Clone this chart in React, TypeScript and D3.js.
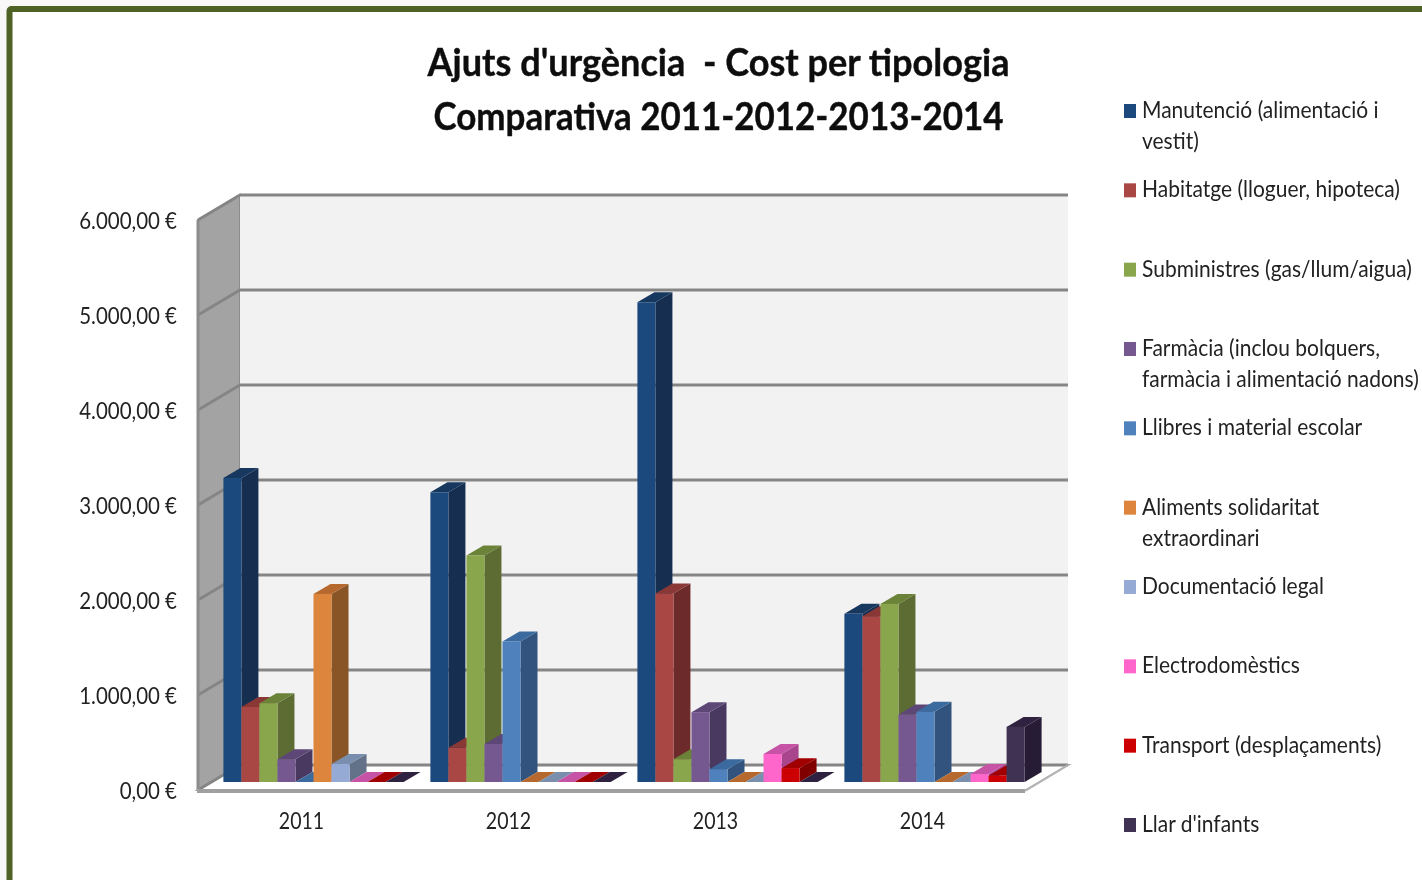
import React, { useEffect, useRef } from 'react';
import * as d3 from 'd3';

const years = ['2011', '2012', '2013', '2014'];

const categories = [
  'Manutenció (alimentació i vestit)',
  'Habitatge (lloguer, hipoteca)',
  'Subministres (gas/llum/aigua)',
  'Farmàcia (inclou bolquers, farmàcia i alimentació nadons)',
  'Llibres i material escolar',
  'Aliments solidaritat extraordinari',
  'Documentació legal',
  'Electrodomèstics',
  'Transport (desplaçaments)',
  "Llar d'infants",
];

// legend entries that wrap on two lines
const legendLines = [
  ['Manutenció (alimentació i', 'vestit)'],
  ['Habitatge (lloguer, hipoteca)'],
  ['Subministres (gas/llum/aigua)'],
  ['Farmàcia (inclou bolquers,', 'farmàcia i alimentació nadons)'],
  ['Llibres i material escolar'],
  ['Aliments solidaritat', 'extraordinari'],
  ['Documentació legal'],
  ['Electrodomèstics'],
  ['Transport (desplaçaments)'],
  ["Llar d'infants"],
];

// one row per category, one value per year
const manutencio = [3200, 3050, 5050, 1770];
const habitatge = [790, 360, 1985, 1745];
const subministres = [830, 2385, 240, 1875];
const farmacia = [240, 400, 735, 710];
const llibres = [0, 1480, 135, 740];
const aliments = [1980, 0, 0, 0];
const documentacio = [190, 0, 0, 0];
const electrodomestics = [0, 0, 295, 85];
const transport = [0, 0, 145, 65];
const llar = [0, 0, 0, 580];

const seriesValues = [
  manutencio, habitatge, subministres, farmacia, llibres,
  aliments, documentacio, electrodomestics, transport, llar,
];

const yTicks = [0, 1000, 2000, 3000, 4000, 5000, 6000];

const frontColors = ['#1f497d', '#a94744', '#8aa64e', '#74598f', '#4f81bd', '#dd843c', '#95aad4', '#ff66cc', '#cc0000', '#403152'];
const topColors = ['#17375e', '#8a3735', '#6b8339', '#5d4776', '#3a6a9f', '#b5692d', '#7a8fae', '#c653a6', '#a00000', '#2f2440'];
const sideColors = ['#132f50', '#6d2b29', '#5b6c32', '#4a3960', '#31537d', '#8a5426', '#637289', '#a8458c', '#800000', '#281e34'];

const locale = d3.formatLocale({
  decimal: ',',
  thousands: '.',
  grouping: [3],
  currency: ['', ' €'],
});

function App() {
  const svgRef = useRef<SVGSVGElement>(null);

  useEffect(() => {
    const svg = d3.select(svgRef.current);
    svg.selectAll('*').remove();

    const font = 'Lato, Carlito, sans-serif';
    const textColor = '#222';

    svg.append('defs')
      .append('filter')
      .attr('id', 'soft')
      .attr('x', 0).attr('y', 0).attr('width', 1).attr('height', 1)
      .append('feGaussianBlur')
      .attr('stdDeviation', 0.7);

    const root = svg.append('g').attr('filter', 'url(#soft)');

    // page background and frame
    root.append('rect').attr('width', 1422).attr('height', 880).attr('fill', '#f8f8f8');
    root.append('rect')
      .attr('x', 9.5).attr('y', 9)
      .attr('width', 1500).attr('height', 1000)
      .attr('rx', 2)
      .attr('fill', '#fff')
      .attr('stroke', '#4f6228')
      .attr('stroke-width', 6);

    // Title
    const titleLines = ["Ajuts d'urgència  - Cost per tipologia", 'Comparativa 2011-2012-2013-2014'];
    const titleWidths = [582, 570];
    root.selectAll('text.title')
      .data(titleLines)
      .join('text')
      .attr('class', 'title')
      .attr('transform', (d, i) => `translate(718.5,${76 + i * 54})`)
      .attr('text-anchor', 'middle')
      .attr('xml:space', 'preserve')
      .style('white-space', 'pre')
      .attr('font-family', font)
      .attr('font-weight', 700)
      .attr('font-size', 38)
      .attr('fill', '#111')
      .attr('stroke', '#111')
      .attr('stroke-width', 0.4)
      .attr('textLength', (d, i) => titleWidths[i])
      .attr('lengthAdjust', 'spacingAndGlyphs')
      .text(d => d);

    // Scales on the front plane of the 3D box
    const frontLeft = 198;
    const frontRight = 1026;
    const y0 = 790;
    const y1 = 220;
    const wallDx = 42;
    const wallDy = -25;
    const barDx = 12; // where the bars stand inside the box
    const barDy = -8;
    const depthDx = 17; // depth of a bar
    const depthDy = -10;

    const y = d3.scaleLinear().domain([0, 6000]).range([y0, y1]);
    const x = d3.scaleBand()
      .domain(years)
      .range([frontLeft, frontRight])
      .paddingInner(0.1294)
      .paddingOuter(0.0647);
    const xInner = d3.scaleBand()
      .domain(categories)
      .range([0, x.bandwidth()]);

    const poly = (pts: number[][]) => pts.map(p => p.join(',')).join(' ');

    // Left wall
    root.append('polygon')
      .attr('points', poly([
        [frontLeft, y(0)], [frontLeft, y(6000)],
        [frontLeft + wallDx, y(6000) + wallDy], [frontLeft + wallDx, y(0) + wallDy],
      ]))
      .attr('fill', '#a3a3a3')
      .attr('stroke', '#8c8c8c')
      .attr('stroke-width', 2);

    // Back wall
    root.append('rect')
      .attr('x', frontLeft + wallDx)
      .attr('y', y(6000) + wallDy)
      .attr('width', frontRight - frontLeft)
      .attr('height', y(0) - y(6000))
      .attr('fill', '#f2f2f2');

    // Floor
    root.append('polygon')
      .attr('points', poly([
        [frontLeft, y(0)], [frontLeft + wallDx, y(0) + wallDy],
        [frontRight + wallDx, y(0) + wallDy], [frontRight, y(0)],
      ]))
      .attr('fill', '#fff')
      .attr('stroke', '#a0a0a0')
      .attr('stroke-width', 2);

    // Gridlines: along the side wall, then along the back wall
    root.selectAll('polyline.grid')
      .data(yTicks)
      .join('polyline')
      .attr('class', 'grid')
      .attr('points', d => poly([
        [frontLeft, y(d)],
        [frontLeft + wallDx, y(d) + wallDy],
        [frontRight + wallDx, y(d) + wallDy],
      ]))
      .attr('fill', 'none')
      .attr('stroke', '#858585')
      .attr('stroke-width', 3);

    // Thick front edge of the floor and the wall
    root.append('line')
      .attr('x1', frontLeft).attr('x2', frontLeft)
      .attr('y1', y(6000)).attr('y2', y(0))
      .attr('stroke', '#8c8c8c').attr('stroke-width', 3);
    root.append('line')
      .attr('x1', frontLeft - 1).attr('x2', frontRight - 1)
      .attr('y1', y(0) + 1).attr('y2', y(0) + 1)
      .attr('stroke', '#a0a0a0').attr('stroke-width', 4);
    root.append('line')
      .attr('x1', frontRight - 1).attr('x2', frontRight + wallDx)
      .attr('y1', y(0) + 1).attr('y2', y(0) + wallDy)
      .attr('stroke', '#b5b5b5').attr('stroke-width', 2);

    // Bars
    years.forEach((year, yi) => {
      const group = root.append('g').attr('class', 'year-' + year);
      categories.forEach((cat, si) => {
        const v = seriesValues[si][yi];
        const bx = (x(year) as number) + (xInner(cat) as number) + barDx;
        const bw = xInner.bandwidth();
        const base = y(0) + barDy;
        const topY = y(v) + barDy;

        group.append('polygon')
          .attr('points', poly([
            [bx + bw, base], [bx + bw, topY],
            [bx + bw + depthDx, topY + depthDy], [bx + bw + depthDx, base + depthDy],
          ]))
          .attr('fill', sideColors[si]);
        group.append('polygon')
          .attr('points', poly([
            [bx, topY], [bx + depthDx, topY + depthDy],
            [bx + bw + depthDx, topY + depthDy], [bx + bw, topY],
          ]))
          .attr('fill', topColors[si]);
        group.append('rect')
          .attr('x', bx)
          .attr('y', topY)
          .attr('width', bw)
          .attr('height', base - topY)
          .attr('fill', frontColors[si]);
      });
    });

    // Y axis
    const yAxis = root.append('g')
      .attr('transform', `translate(${frontLeft},0)`)
      .call(d3.axisLeft(y)
        .tickValues(yTicks)
        .tickSize(0)
        .tickFormat(d => locale.format('$,.2f')(d as number)));
    yAxis.select('.domain').remove();
    yAxis.selectAll('text')
      .attr('x', 0)
      .attr('dy', '0.38em')
      .attr('transform', 'translate(-21,0) scale(0.89,1)')
      .attr('font-family', font)
      .attr('font-size', 23)
      .attr('fill', textColor);

    // X axis
    const xAxis = root.append('g')
      .attr('transform', `translate(0,${y0})`)
      .call(d3.axisBottom(x).tickSize(0));
    xAxis.select('.domain').remove();
    xAxis.selectAll('text')
      .attr('y', 0)
      .attr('dy', 0)
      .attr('transform', 'translate(0,39) scale(0.85,1)')
      .attr('font-family', font)
      .attr('font-size', 23)
      .attr('fill', textColor);

    // Legend
    const legendY = d3.scalePoint().domain(categories).range([111, 825]);
    const legend = root.selectAll('g.legend')
      .data(categories)
      .join('g')
      .attr('class', 'legend')
      .attr('transform', d => `translate(1124,${legendY(d)})`);
    legend.append('rect')
      .attr('y', -7)
      .attr('width', 12)
      .attr('height', 14)
      .attr('fill', (d, i) => frontColors[i]);
    legend.each(function (d, i) {
      d3.select(this).selectAll('text')
        .data(legendLines[i])
        .join('text')
        .attr('transform', (l, li) => `translate(18,${7 + li * 31}) scale(0.913,1)`)
        .attr('font-family', font)
        .attr('font-size', 23)
        .attr('fill', textColor)
        .text(l => l);
    });
  }, []);

  return (
    <svg
      ref={svgRef}
      width={1422}
      height={880}
      style={{ position: 'absolute', left: 0, top: 0, display: 'block' }}
    />
  );
}

export default App;
